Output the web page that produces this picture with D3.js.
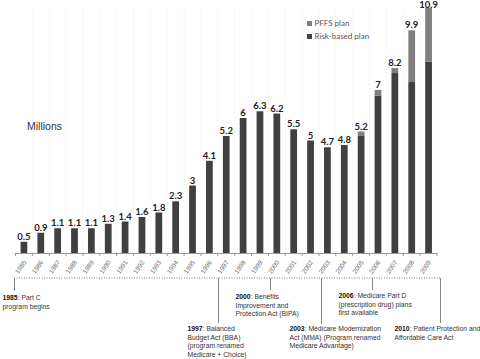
<!DOCTYPE html>
<html>
<head>
<meta charset="utf-8">
<script src="https://cdn.jsdelivr.net/npm/d3@7"></script>
<style>
  body { margin: 0; background: #fff; }
  svg { display: block; }
</style>
</head>
<body>
<svg id="chart" width="480" height="359"></svg>
<script>
const years = [1985, 1986, 1987, 1988, 1989, 1990, 1991, 1992, 1993, 1994, 1995, 1996,
  1997, 1998, 1999, 2000, 2001, 2002, 2003, 2004, 2005, 2006, 2007, 2008, 2009];
const riskBased = [0.5, 0.9, 1.1, 1.1, 1.1, 1.3, 1.4, 1.6, 1.8, 2.3, 3, 4.1,
  5.2, 6, 6.3, 6.2, 5.5, 5, 4.7, 4.8, 5.2, 7.0, 8.0, 7.6, 8.5];
const pffs = [0, 0, 0, 0, 0, 0, 0, 0, 0, 0, 0, 0,
  0, 0, 0, 0, 0, 0, 0, 0, 0.2, 0.25, 0.22, 2.3, 2.4];
const totalLabels = ["0.5", "0.9", "1.1", "1.1", "1.1", "1.3", "1.4", "1.6", "1.8", "2.3", "3", "4.1",
  "5.2", "6", "6.3", "6.2", "5.5", "5", "4.7", "4.8", "5.2", "7", "8.2", "9.9", "10.9"];
const seriesNames = ["PFFS plan", "Risk-based plan"];
const seriesColors = ["#7f7f7f", "#404040"];

// timeline events under the axis
const eventYears = [1985, 1997, 2000, 2003, 2006, 2010];
const eventBold = ["1985", "1997", "2000", "2003", "2006", "2010"];
const eventLines = [
  [": Part C", "program begins"],
  [": Balanced", "Budget Act (BBA)", "(program renamed", "Medicare + Choice)"],
  [": Benefits", "Improvement and", "Protection Act (BIPA)"],
  [": Medicare Modernization", "Act (MMA) (Program renamed", "Medicare Advantage)"],
  [": Medicare Part D", "(prescription drug) plans", "first available"],
  [": Patient Protection and", "Affordable Care Act"]
];
// layout: connector depth, text offset from connector
const eventLayout = [
  { drop: 13, dx: -12, dy: 22 },
  { drop: 45, dx: -31, dy: 53 },
  { drop: 12, dx: -35, dy: 21 },
  { drop: 46, dx: -32, dy: 53 },
  { drop: 12, dx: -34, dy: 20 },
  { drop: 45, dx: -46, dy: 53 }
];

const svg = d3.select("#chart");
const baseY = 253;

const x = d3.scaleBand()
  .domain(years)
  .range([15.5, 437])
  .paddingInner(0.6)
  .paddingOuter(0.3);

const y = d3.scaleLinear()
  .domain([0, 10.9])
  .range([baseY, 7.8]);

const rows = years.map((yr, i) => ({ year: yr, risk: riskBased[i], pffs: pffs[i], label: totalLabels[i] }));

// faint dotted gridlines at band boundaries
const edges = years.map(yr => x(yr) - x.step() * x.paddingInner() / 2);
edges.push(x(years[years.length - 1]) + x.bandwidth() + x.step() * x.paddingInner() / 2);

svg.append("g")
  .selectAll("line")
  .data(edges.slice(1, -1))
  .join("line")
  .attr("x1", d => d).attr("x2", d => d)
  .attr("y1", y(10.9)).attr("y2", baseY)
  .attr("stroke", "#e6e6e6")
  .attr("stroke-dasharray", "1,3");

// bars
const bars = svg.append("g");
bars.selectAll("rect.risk")
  .data(rows)
  .join("rect")
  .attr("class", "risk")
  .attr("x", d => x(d.year))
  .attr("width", x.bandwidth())
  .attr("y", d => y(d.risk))
  .attr("height", d => baseY - y(d.risk))
  .attr("fill", seriesColors[1]);

bars.selectAll("rect.pffs")
  .data(rows.filter(d => d.pffs > 0))
  .join("rect")
  .attr("class", "pffs")
  .attr("x", d => x(d.year))
  .attr("width", x.bandwidth())
  .attr("y", d => y(d.risk + d.pffs))
  .attr("height", d => y(d.risk) - y(d.risk + d.pffs))
  .attr("fill", seriesColors[0]);

// value labels
svg.append("g")
  .selectAll("text")
  .data(rows)
  .join("text")
  .attr("x", d => x(d.year) + x.bandwidth() / 2)
  .attr("y", d => Math.max(y(d.risk + d.pffs) - 2, 7.5))
  .attr("text-anchor", "middle")
  .attr("font-family", "Lato, 'Open Sans', sans-serif")
  .attr("font-weight", "bold")
  .attr("font-size", 9.5)
  .attr("fill", "#222")
  .text(d => d.label);

// x axis
const xAxis = d3.axisBottom(x).tickSize(0).tickPadding(0).tickSizeOuter(0);
const axisG = svg.append("g")
  .attr("transform", `translate(0,${baseY})`)
  .call(xAxis);
axisG.select(".domain").attr("stroke", "#9a9a9a").attr("d", `M${edges[0]},0.5H${edges[edges.length - 1]}`);
axisG.selectAll(".tick text")
  .attr("x", 0)
  .attr("y", 0)
  .attr("dy", "0.35em")
  .attr("font-family", "'Liberation Sans', Arial, sans-serif")
  .attr("font-size", 6.5)
  .attr("fill", "#666")
  .attr("text-anchor", "end")
  .attr("transform", "translate(1,8) rotate(-55)");

axisG.append("g")
  .selectAll("line")
  .data(edges)
  .join("line")
  .attr("x1", d => d).attr("x2", d => d)
  .attr("y1", 0).attr("y2", 3)
  .attr("stroke", "#9a9a9a");

// "Millions" label
svg.append("text")
  .attr("x", 27)
  .attr("y", 130)
  .attr("font-family", "'Liberation Sans', Arial, sans-serif")
  .attr("font-size", 10.5)
  .attr("fill", "#333")
  .text("Millions");

// legend
const legend = svg.append("g")
  .selectAll("g")
  .data(seriesNames)
  .join("g")
  .attr("transform", (d, i) => `translate(307,${21 + i * 13})`);
legend.append("rect")
  .attr("width", 5).attr("height", 5)
  .attr("fill", (d, i) => seriesColors[i]);
legend.append("text")
  .attr("x", 7.5)
  .attr("y", 5)
  .attr("font-family", "Lato, 'Open Sans', sans-serif")
  .attr("font-size", 8)
  .attr("fill", "#555")
  .text(d => d);

// timeline annotations
const tl = d3.scaleLinear().domain([1985, 2010]).range([14, 440]);
const lineY = 278;
const tlG = svg.append("g");
tlG.append("line")
  .attr("x1", tl(1985)).attr("x2", tl(2010))
  .attr("y1", lineY).attr("y2", lineY)
  .attr("stroke", "#777")
  .attr("stroke-dasharray", "1,1.5");

eventYears.forEach((yr, i) => {
  const cx = Math.round(tl(yr)) + 0.5;
  const lay = eventLayout[i];
  tlG.append("line")
    .attr("x1", cx).attr("x2", cx)
    .attr("y1", lineY).attr("y2", lineY + lay.drop)
    .attr("stroke", "#888");
  const t = tlG.append("text")
    .attr("x", cx + lay.dx)
    .attr("y", lineY + lay.dy)
    .attr("font-family", "'Liberation Sans', Arial, sans-serif")
    .attr("font-size", 6.8)
    .attr("fill", "#333");
  eventLines[i].forEach((ln, j) => {
    const ts = t.append("tspan")
      .attr("x", cx + lay.dx)
      .attr("dy", j === 0 ? 0 : 8.5);
    if (j === 0) {
      ts.append("tspan").attr("font-weight", "bold").attr("fill", "#111").text(eventBold[i]);
      ts.append("tspan").text(ln);
    } else {
      ts.text(ln);
    }
  });
});
</script>
</body>
</html>
